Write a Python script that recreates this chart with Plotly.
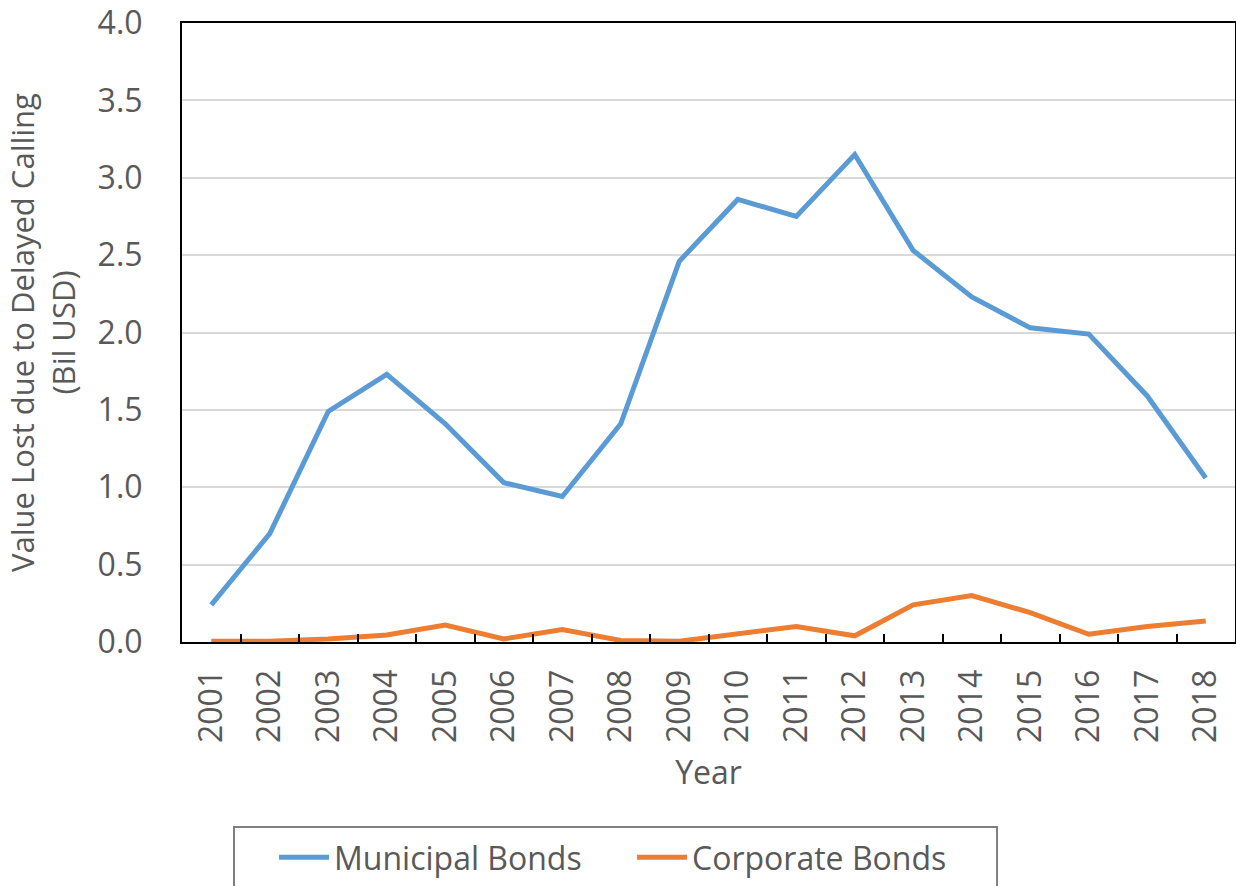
import plotly.graph_objects as go

years = [str(y) for y in range(2001, 2019)]
municipal = [0.24, 0.70, 1.49, 1.73, 1.41, 1.03, 0.94, 1.41, 2.46, 2.86,
             2.75, 3.15, 2.53, 2.23, 2.03, 1.99, 1.59, 1.06]
corporate = [0.005, 0.005, 0.02, 0.045, 0.11, 0.02, 0.08, 0.01, 0.005, 0.05,
             0.10, 0.04, 0.24, 0.30, 0.19, 0.05, 0.10, 0.135]
y_ticks = [0, 0.5, 1.0, 1.5, 2.0, 2.5, 3.0, 3.5, 4.0]

FONT = "Open Sans"
GREY = "#595959"
FS = 32

fig = go.Figure()
fig.add_trace(go.Scatter(x=years, y=municipal, mode="lines", name="Municipal Bonds",
                         line=dict(color="#5B9BD5", width=5)))
fig.add_trace(go.Scatter(x=years, y=corporate, mode="lines", name="Corporate Bonds",
                         line=dict(color="#ED7D31", width=5)))

# legend frame drawn as a shape so the entries can sit inset like the original
fig.add_shape(type="rect", xref="paper", yref="paper",
              x0=0.0494, x1=0.774, y0=-0.2989, y1=-0.5,
              line=dict(color="#7f7f7f", width=2), fillcolor="rgba(0,0,0,0)")

fig.update_layout(
    width=1236, height=886,
    margin=dict(l=182, r=1, t=23, b=244),
    paper_bgcolor="white", plot_bgcolor="white",
    font=dict(family=FONT, color=GREY, size=FS),
    showlegend=True,
    legend=dict(orientation="h", x=0.0874, xanchor="left",
                yref="container", y=0.0632, yanchor="top",
                borderwidth=0, bgcolor="rgba(0,0,0,0)", font=dict(size=FS, color=GREY),
                entrywidth=293, itemwidth=50),
)
fig.update_xaxes(
    type="category", range=[-0.5, 17.5], automargin=False,
    showline=True, linecolor="black", linewidth=2, mirror=True,
    ticks="inside", tickson="boundaries", ticklen=8, tickcolor="black", tickwidth=2,
    tickangle=-90, ticklabelstandoff=13, showgrid=False,
    title=dict(text="Year", standoff=20, font=dict(size=FS)),
)
fig.update_yaxes(
    range=[0, 4.0], tickvals=y_ticks, ticktext=[f"{v:.1f}" for v in y_ticks], automargin=False,
    showline=True, linecolor="black", linewidth=2, mirror=True,
    gridcolor="#d9d9d9", gridwidth=2, zeroline=False, ticks="", ticklabelstandoff=31,
    title=dict(text="Value Lost due to Delayed Calling<br>(Bil USD)", standoff=13, font=dict(size=31)),
)

fig.write_html("out.html", config={"displayModeBar": False},
               post_script="document.body.style.margin = '0';")
